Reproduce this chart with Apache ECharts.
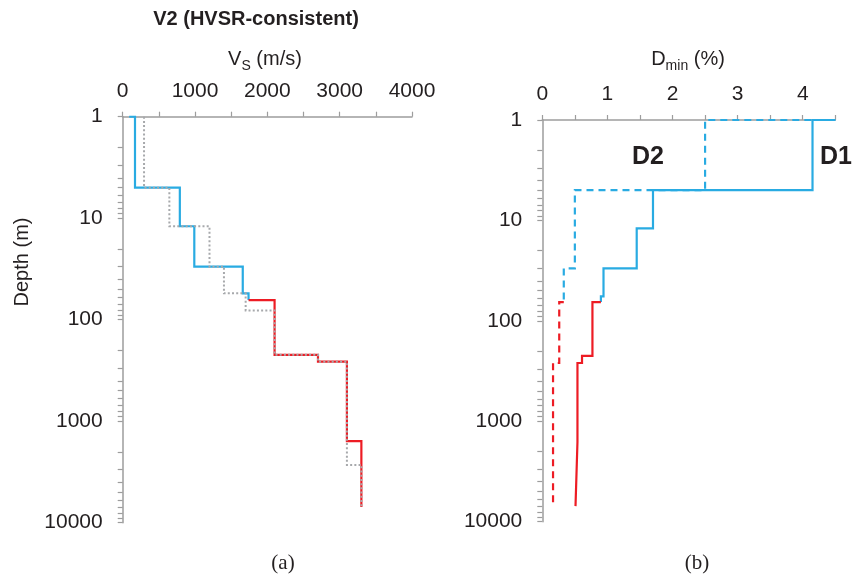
<!DOCTYPE html>
<html>
<head>
<meta charset="utf-8">
<script src="https://cdn.jsdelivr.net/npm/echarts@6/dist/echarts.min.js"></script>
<style>
  html, body { margin: 0; padding: 0; background: #ffffff; }
  #chart { width: 855px; height: 581px; }
</style>
</head>
<body>
<div id="chart"></div>
<script>
// Step profiles: each layer i has value[i] between depth[i] and depth[i+1] (m).
// A zero-thickness first layer carries the horizontal jump at the top of a segment.

// (a) Shear-wave velocity Vs (m/s)
const vsBlueDepth = [1, 1, 5, 12, 30, 55, 64];
const vsBlueValue = [90, 170, 790, 990, 1660, 1740];
const vsRedDepth = [64, 64, 222, 259, 1570, 7000];
const vsRedValue = [1740, 2100, 2700, 3100, 3300];
const vsGrayDepth = [1, 5, 12, 30, 55, 81, 222, 259, 2700, 7000];
const vsGrayValue = [295, 645, 1200, 1400, 1700, 2100, 2700, 3100, 3300];

// (b) Small-strain damping Dmin (%)
const d1BlueDepth = [1, 1, 5, 12, 30, 57, 65];
const d1BlueValue = [4.5, 4.15, 1.7, 1.45, 0.94, 0.9];
const d1RedDepth = [65, 65, 223, 263, 1610, 7000];
const d1RedValue = [0.9, 0.77, 0.61, 0.54, 0.51];
const d2BlueDepth = [1, 1, 5, 30, 65];
const d2BlueValue = [4.5, 2.5, 0.5, 0.33];
const d2RedDepth = [65, 65, 263, 7000];
const d2RedValue = [0.33, 0.26, 0.165];

// Axis tick labels
const vsTicks = [0, 1000, 2000, 3000, 4000];
const dTicks = [0, 1, 2, 3, 4];
const depthTicks = [1, 10, 100, 1000, 10000];

const BLUE = '#29abe2';
const RED = '#ed1c24';
const GRAY = '#a7a9ac';
const AXIS = '#9d9d9d';
const TEXT = '#231f20';
const SANS = '"Liberation Sans", Arial, Helvetica, sans-serif';

function stepPoints(depth, value) {
  const pts = [];
  for (let i = 0; i < value.length; i++) {
    pts.push([value[i], depth[i]]);
    pts.push([value[i], depth[i + 1]]);
  }
  return pts;
}

function stepSeries(name, idx, depth, value, color, lineType, width) {
  return {
    name: name,
    type: 'line',
    xAxisIndex: idx,
    yAxisIndex: idx,
    data: stepPoints(depth, value),
    showSymbol: false,
    symbol: 'none',
    silent: true,
    animation: false,
    lineStyle: { color: color, width: width, type: lineType, cap: 'butt', join: 'miter' },
    z: 3
  };
}

function xAxisCfg(grid, max, interval, ticks) {
  return {
    gridIndex: grid,
    type: 'value',
    position: 'top',
    min: 0,
    max: max,
    interval: interval,
    axisLine: { show: true, lineStyle: { color: AXIS, width: 1.5 } },
    axisTick: { show: true, inside: false, length: 5, lineStyle: { color: AXIS, width: 1.2 } },
    minorTick: { show: true, splitNumber: 2, length: 5, lineStyle: { color: AXIS, width: 1.2 } },
    splitLine: { show: false },
    axisLabel: {
      show: true, margin: 15, color: TEXT, fontFamily: SANS, fontSize: 21,
      showMaxLabel: true, showMinLabel: true,
      formatter: function (v) { return ticks.indexOf(v) >= 0 ? String(v) : ''; }
    }
  };
}

function yAxisCfg(grid) {
  return {
    gridIndex: grid,
    type: 'log',
    logBase: 10,
    min: depthTicks[0],
    max: depthTicks[depthTicks.length - 1],
    inverse: true,
    axisLine: { show: true, onZero: false, lineStyle: { color: AXIS, width: 1.5 } },
    axisTick: { show: true, inside: false, length: 5, lineStyle: { color: AXIS, width: 1.2 } },
    minorTick: { show: true, splitNumber: 9, length: 5, lineStyle: { color: AXIS, width: 1.2 } },
    splitLine: { show: false },
    axisLabel: {
      show: true, margin: 20, color: TEXT, fontFamily: SANS, fontSize: 21,
      formatter: function (v) { return String(v); }
    }
  };
}

const chart = echarts.init(document.getElementById('chart'), null, { renderer: 'canvas' });

chart.setOption({
  backgroundColor: '#ffffff',
  animation: false,
  grid: [
    { left: 122.7, top: 116.7, width: 289.3, height: 406, outerBoundsMode: 'none', containLabel: false },
    { left: 542.3, top: 120, width: 293, height: 401.7, outerBoundsMode: 'none', containLabel: false }
  ],
  xAxis: [
    xAxisCfg(0, 4000, 1000, vsTicks),
    xAxisCfg(1, 4.5, 1, dTicks)
  ],
  yAxis: [yAxisCfg(0), yAxisCfg(1)],
  series: [
    stepSeries('Vs V2', 0, vsBlueDepth, vsBlueValue, BLUE, 'solid', 2.2),
    stepSeries('Vs V2 deep', 0, vsRedDepth, vsRedValue, RED, 'solid', 2.2),
    stepSeries('Vs alt', 0, vsGrayDepth, vsGrayValue, GRAY, [2, 2.2], 2),
    stepSeries('D2', 1, d2BlueDepth, d2BlueValue, BLUE, [7, 5], 2.2),
    stepSeries('D2 deep', 1, d2RedDepth, d2RedValue, RED, [7, 5], 2.2),
    stepSeries('D1', 1, d1BlueDepth, d1BlueValue, BLUE, 'solid', 2.2),
    stepSeries('D1 deep', 1, d1RedDepth, d1RedValue, RED, 'solid', 2.2)
  ],
  graphic: [
    { type: 'text', x: 256, y: 19, style: { text: 'V2 (HVSR-consistent)', font: 'bold 20px ' + SANS, fill: TEXT, align: 'center', verticalAlign: 'middle' } },
    { type: 'text', x: 265, y: 61, style: {
        text: '{m|V}{s|S}{m| (m/s)}', align: 'center', verticalAlign: 'middle', fill: TEXT,
        rich: {
          m: { fontFamily: SANS, fontSize: 20, lineHeight: 24, verticalAlign: 'top', fill: TEXT },
          s: { fontFamily: SANS, fontSize: 14, lineHeight: 14, verticalAlign: 'bottom', fill: TEXT }
        }
      } },
    { type: 'text', x: 688, y: 61, style: {
        text: '{m|D}{s|min}{m| (%)}', align: 'center', verticalAlign: 'middle', fill: TEXT,
        rich: {
          m: { fontFamily: SANS, fontSize: 20, lineHeight: 24, verticalAlign: 'top', fill: TEXT },
          s: { fontFamily: SANS, fontSize: 14, lineHeight: 14, verticalAlign: 'bottom', fill: TEXT }
        }
      } },
    { type: 'text', x: 22, y: 262, rotation: Math.PI / 2, style: { text: 'Depth (m)', font: '20px ' + SANS, fill: TEXT, align: 'center', verticalAlign: 'middle' } },
    { type: 'text', x: 648, y: 157, style: { text: 'D2', font: 'bold 25px ' + SANS, fill: TEXT, align: 'center', verticalAlign: 'middle' } },
    { type: 'text', x: 820, y: 157, style: { text: 'D1', font: 'bold 25px ' + SANS, fill: TEXT, align: 'left', verticalAlign: 'middle' } },
    { type: 'text', x: 283, y: 563, style: { text: '(a)', font: '21px "Liberation Serif", "Times New Roman", serif', fill: TEXT, align: 'center', verticalAlign: 'middle' } },
    { type: 'text', x: 697, y: 563, style: { text: '(b)', font: '21px "Liberation Serif", "Times New Roman", serif', fill: TEXT, align: 'center', verticalAlign: 'middle' } }
  ]
});
</script>
</body>
</html>
